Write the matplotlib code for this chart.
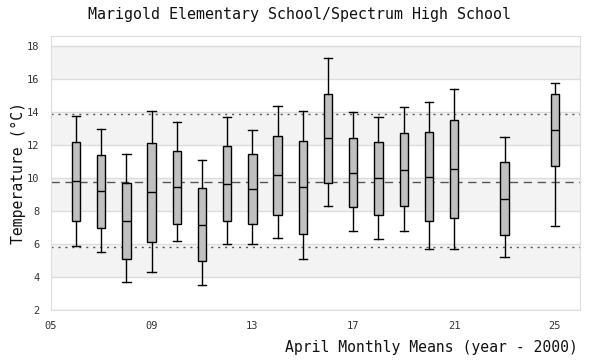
import matplotlib.pyplot as plt
import numpy as np

# April box stats (year - 2000)
years = [6, 7, 8, 9, 10, 11, 12, 13, 14, 15, 16, 17, 18, 19, 20, 21, 23, 25]
whislo = [5.86, 5.5, 3.68, 4.28, 6.16, 3.5, 5.98, 5.98, 6.35, 5.07, 8.28, 6.77, 6.28, 6.77, 5.68, 5.68, 5.19, 7.07]
q1 = [7.38, 6.95, 5.07, 6.1, 7.19, 4.95, 7.38, 7.19, 7.74, 6.59, 9.68, 8.22, 7.74, 8.28, 7.38, 7.56, 6.53, 10.71]
med = [9.8, 9.19, 7.38, 9.13, 9.44, 7.13, 9.62, 9.32, 10.16, 9.44, 12.41, 10.28, 9.98, 10.47, 10.04, 10.53, 8.71, 12.89]
q3 = [12.16, 11.38, 9.68, 12.1, 11.62, 9.38, 11.92, 11.44, 12.53, 12.22, 15.07, 12.41, 12.16, 12.71, 12.77, 13.5, 10.95, 15.07]
whishi = [13.74, 12.95, 11.43, 14.04, 13.38, 11.07, 13.68, 12.89, 14.35, 14.04, 17.25, 13.98, 13.68, 14.28, 14.59, 15.38, 12.47, 15.74]

mean_line = 9.74
upper_line = 13.88
lower_line = 5.8

xticks = [5, 9, 13, 17, 21, 25]
yticks = [2, 4, 6, 8, 10, 12, 14, 16, 18]

mono = "DejaVu Sans Mono"

fig = plt.figure(figsize=(6, 3.6), dpi=100)
ax = fig.add_axes([0.0845, 0.139, 0.8825, 0.761])

# alternating bands
for lo in [4, 8, 12, 16]:
    ax.axhspan(lo, lo + 2, color="#f3f3f3", zorder=0, lw=0)
for y in yticks:
    ax.axhline(y, color="#dddddd", lw=1, zorder=0.5)

ax.axhline(mean_line, color="#555555", lw=1, ls=(0, (6, 4)), zorder=1)
ax.axhline(upper_line, color="#555555", lw=1, ls=(0, (1.5, 3.5)), zorder=1)
ax.axhline(lower_line, color="#555555", lw=1, ls=(0, (1.5, 3.5)), zorder=1)

stats = []
for i in range(len(years)):
    stats.append({"whislo": whislo[i], "q1": q1[i], "med": med[i],
                  "q3": q3[i], "whishi": whishi[i], "fliers": []})

ax.bxp(stats, positions=years, widths=0.33, patch_artist=True,
       showfliers=False, manage_ticks=False,
       boxprops=dict(facecolor="#c0c0c0", edgecolor="black", lw=1),
       medianprops=dict(color="black", lw=1),
       whiskerprops=dict(color="black", lw=1),
       capprops=dict(color="black", lw=1),
       capwidths=0.33)

ax.set_xlim(5, 26)
ax.set_ylim(2, 18.6)
ax.set_xticks(xticks)
ax.set_xticklabels(["%02d" % t for t in xticks])
ax.set_yticks(yticks)
ax.tick_params(length=0, labelsize=7.5, colors="#333333", pad=8)
for lab in ax.get_xticklabels() + ax.get_yticklabels():
    lab.set_family(mono)

for s in ax.spines.values():
    s.set_color("#dddddd")

fig.text(0.5, 0.96, "Marigold Elementary School/Spectrum High School",
         ha="center", va="center", family=mono, fontsize=10.8, color="#111111")
fig.text(0.963, 0.035, "April Monthly Means (year - 2000)",
         ha="right", va="center", family=mono, fontsize=10.6, color="#111111")
fig.text(0.03, 0.52, "Temperature (°C)", rotation=90,
         ha="center", va="center", family=mono, fontsize=10.6, color="#111111")

fig.savefig("out.png", dpi=100)
